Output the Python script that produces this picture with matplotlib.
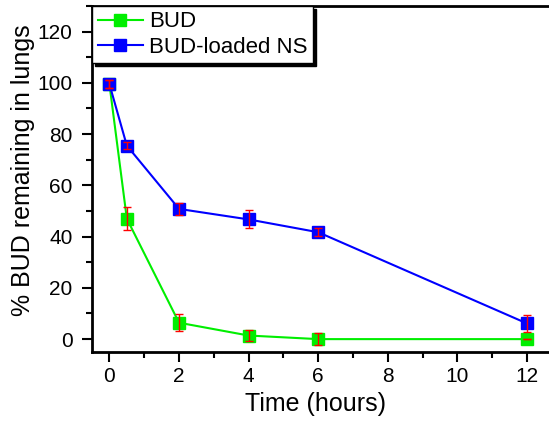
import numpy as np
import matplotlib
matplotlib.use("Agg")
import matplotlib.pyplot as plt
from matplotlib.ticker import MultipleLocator

plt.rcParams["font.family"] = ["Liberation Sans", "DejaVu Sans"]

# data
time_h = [0, 0.5, 2, 4, 6, 12]
bud = [99.5, 47.0, 6.4, 1.4, 0.0, 0.0]
bud_err = [1.5, 4.4, 3.4, 2.0, 2.2, 0.0]
ns = [99.5, 75.5, 50.8, 46.7, 41.7, 6.1]
ns_err = [1.5, 1.5, 2.3, 3.5, 1.5, 3.5]

GREEN = "#00ee00"
BLUE = "#0000ff"
RED = "#ff0000"

fig = plt.figure(figsize=(5.49, 4.23), dpi=100)
ax = fig.add_axes([0.1676, 0.168, 0.8324, 0.818])

ax.plot(time_h, bud, color=GREEN, lw=1.5, marker="s", ms=8,
        mec=GREEN, mfc=GREEN, label="BUD", zorder=3)
ax.plot(time_h, ns, color=BLUE, lw=1.5, marker="s", ms=8,
        mec=BLUE, mfc=BLUE, label="BUD-loaded NS", zorder=3)
ax.errorbar(time_h, bud, yerr=bud_err, fmt="none", ecolor=RED,
            elinewidth=1, capsize=3, capthick=1, zorder=4)
ax.errorbar(time_h, ns, yerr=ns_err, fmt="none", ecolor=RED,
            elinewidth=1, capsize=3, capthick=1, zorder=4)

ax.set_xlim(-0.5, 12.63)
ax.set_ylim(-5, 130)
ax.set_xticks([0, 2, 4, 6, 8, 10, 12])
ax.set_yticks([0, 20, 40, 60, 80, 100, 120])
ax.xaxis.set_minor_locator(MultipleLocator(1))
ax.yaxis.set_minor_locator(MultipleLocator(10))
ax.tick_params(which="major", direction="out", length=7, width=1.5,
               labelsize=15, top=False, right=False)
ax.tick_params(axis="y", which="major", pad=7)
ax.tick_params(which="minor", direction="out", length=4, width=1.5,
               top=False, right=False)

for side in ["left", "bottom", "top"]:
    ax.spines[side].set_linewidth(2)
ax.spines["right"].set_visible(False)

ax.set_xlabel("Time (hours)", fontsize=18)
ax.set_ylabel("% BUD remaining in lungs", fontsize=18)
ax.xaxis.set_label_coords(0.49, -0.115)
ax.yaxis.set_label_coords(-0.124, 0.525)

leg = ax.legend(loc="upper left", borderaxespad=0, fontsize=16,
                frameon=True, fancybox=False,
                shadow={"color": "black", "alpha": 1},
                handlelength=2.05, handletextpad=0.25,
                borderpad=0.25, labelspacing=0.2, framealpha=1)
leg.get_frame().set_edgecolor("black")
leg.get_frame().set_linewidth(1)

fig.savefig("out.png", dpi=100)
